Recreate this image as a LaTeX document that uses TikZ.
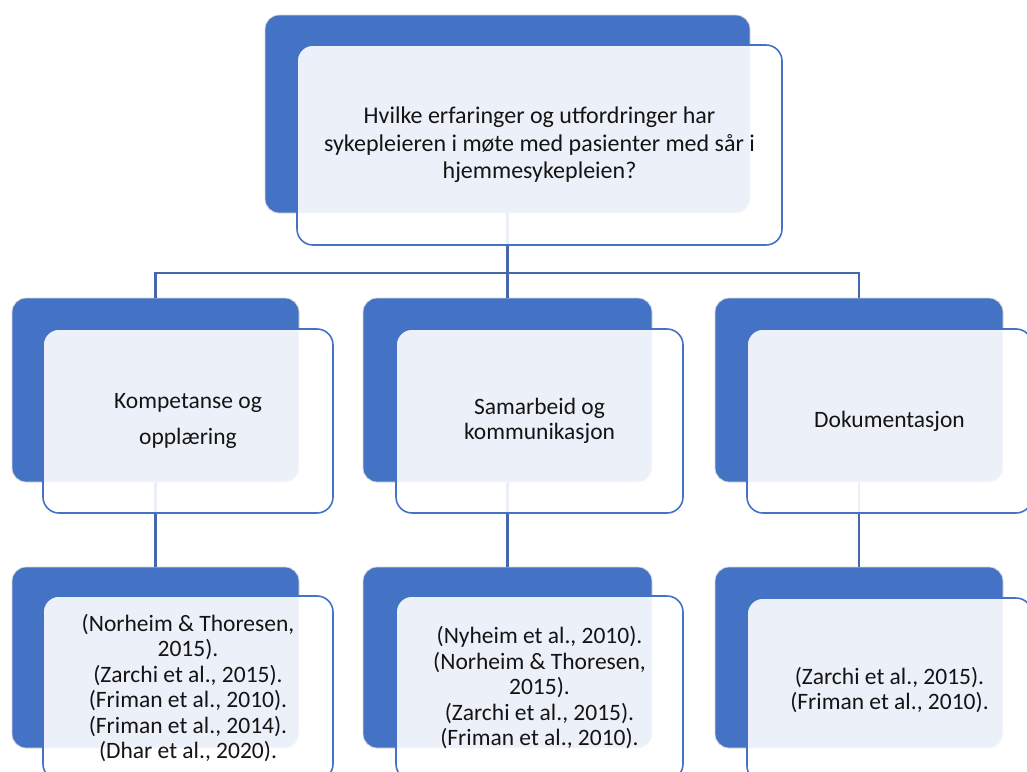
\documentclass[tikz,border=0pt]{standalone}
\usepackage{fontspec}
\setmainfont{Carlito}
\usetikzlibrary{positioning}
\definecolor{smartblue}{RGB}{68,114,196}
\definecolor{linkblue}{RGB}{70,104,170}
\definecolor{inktext}{RGB}{20,20,20}
\tikzset{
        % Blue back plates
        plate/.style={rectangle, rounded corners=14pt, fill=smartblue, draw=black!15, line width=0.8pt, inner sep=0pt},
        % Front cards (half see-through)
        card/.style={rectangle, rounded corners=16pt, draw=smartblue, line width=1.6pt, fill=white, fill opacity=0.9, text opacity=1, text=inktext, align=center, inner sep=0pt, font=\fontsize{23.5}{25.5}\selectfont},
        % Connectors
        link/.style={draw=linkblue, line width=2.2pt}
}
\begin{document}
\begin{tikzpicture}[x=1pt, y=-1pt]
    \useasboundingbox (0,0) rectangle (1027,771);
    \clip (0,0) rectangle (1027,771);
    % back plates
    \node[plate, minimum width=485pt, minimum height=198pt] (qback) at (507.5,114) {};
    \node[plate, minimum width=287pt, minimum height=184pt] (kback) at (155.5,390) {};
    \node[plate, minimum width=289pt, minimum height=184pt] (sback) at (507.5,390) {};
    \node[plate, minimum width=288pt, minimum height=184pt] (dback) at (859,390) {};
    \node[plate, minimum width=287pt, minimum height=181pt] (krefback) at (155.5,657.5) {};
    \node[plate, minimum width=289pt, minimum height=181pt] (srefback) at (507.5,657.5) {};
    \node[plate, minimum width=288pt, minimum height=181pt] (drefback) at (859,657.5) {};
    % connectors
    \coordinate (split) at (507.5,273);
    \draw[link] (qback.south) -- (sback.north);
    \draw[link] (kback.north) -- (kback.north |- split) -- (dback.north |- split) -- (dback.north);
    \draw[link] (kback.south) -- (krefback.north);
    \draw[link] (sback.south) -- (srefback.north);
    \draw[link] (dback.south) -- (drefback.north);
    % front cards
    \node[card, minimum width=485pt, minimum height=200pt, font=\fontsize{24}{27.5}\selectfont] (question) at (539.5,145)
        {Hvilke erfaringer og utfordringer har\\sykepleieren i møte med pasienter med sår i\\hjemmesykepleien?};
    \node[card, minimum width=290pt, minimum height=184pt] (kompetanse) at (188,421)
        {Kompetanse og\\[10pt]opplæring};
    \node[card, minimum width=287pt, minimum height=184pt] (samarbeid) at (539.5,421)
        {Samarbeid og\\kommunikasjon};
    \node[card, minimum width=285pt, minimum height=184pt] (dokumentasjon) at (889.5,421)
        {Dokumentasjon};
    \node[card, minimum width=290pt, minimum height=184pt] (kref) at (188,688)
        {(Norheim \& Thoresen,\\2015).\\(Zarchi et al., 2015).\\(Friman et al., 2010).\\(Friman et al., 2014).\\(Dhar et al., 2020).};
    \node[card, minimum width=287pt, minimum height=184pt] (sref) at (539.5,688)
        {(Nyheim et al., 2010).\\(Norheim \& Thoresen,\\2015).\\(Zarchi et al., 2015).\\(Friman et al., 2010).};
    \node[card, minimum width=285pt, minimum height=184pt] (dref) at (889.5,690)
        {(Zarchi et al., 2015).\\(Friman et al., 2010).};
\end{tikzpicture}
\end{document}
